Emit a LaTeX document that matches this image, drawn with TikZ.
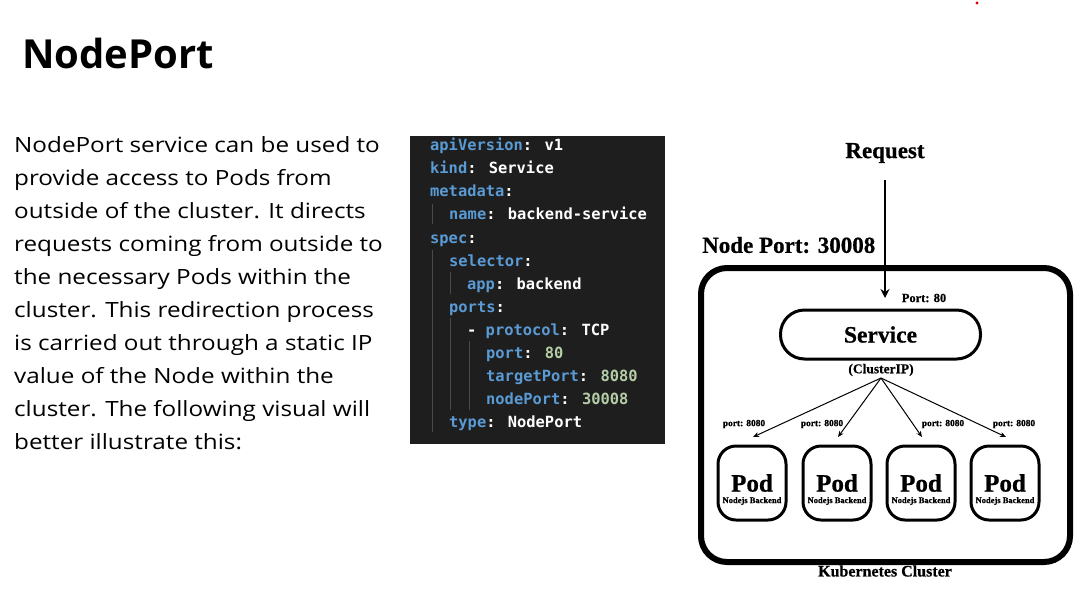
\documentclass[tikz,border=0pt]{standalone}
\usepackage{graphicx}
\usepackage{fontspec}
\setmainfont{Open Sans}
\newfontfamily\codefont{DejaVu Sans Mono}
\newfontfamily\serifb{Liberation Serif}[FakeBold=0.6]
\usetikzlibrary{arrows.meta}
\definecolor{codebg}{HTML}{1E1E1E}
\definecolor{keyc}{HTML}{5A9BD5}
\definecolor{numc}{HTML}{B5CEA8}
\definecolor{guide}{HTML}{4A4A4A}
\tikzset{
  codeline/.style={anchor=base west, inner sep=0pt, font=\codefont\bfseries\fontsize{15.4}{18}\selectfont, text=white},
  paraline/.style={anchor=base west, inner sep=0pt, font=\fontsize{21}{25}\selectfont},
  diag/.style={inner sep=0pt},
  podbox/.style={draw, line width=3pt, rounded corners=18pt, minimum width=68pt, minimum height=74pt},
  flow/.style={-{Stealth[length=6pt,width=5pt]}, line width=1pt},
}
\newcommand{\kk}[1]{\textcolor{keyc}{#1}}
\newcommand{\nn}[1]{\textcolor{numc}{#1}}
\newcommand{\sx}[1]{\scalebox{1.155}[1]{#1}}
\newcommand{\dfont}[1]{\serifb\bfseries\fontsize{#1}{#1}\selectfont}
\begin{document}
\begin{tikzpicture}[x=1pt,y=-1pt]
\useasboundingbox (0,0) rectangle (1092,603);
\fill[white] (0,0) rectangle (1092,603);
\fill[red!85!black] (977,3) circle (1.6);
% title
\node[anchor=west, inner sep=0pt, font=\bfseries\fontsize{40}{48}\selectfont] (title) at (22,53) {NodePort};
% paragraph
\node[paraline] (p1) at (14,152) {\sx{NodePort service can be used to}};
\node[paraline] (p2) at (14,185) {\sx{provide access to Pods from}};
\node[paraline] (p3) at (14,218) {\sx{outside of the cluster. It directs}};
\node[paraline] (p4) at (14,251) {\sx{requests coming from outside to}};
\node[paraline] (p5) at (14,284) {\sx{the necessary Pods within the}};
\node[paraline] (p6) at (14,317) {\sx{cluster. This redirection process}};
\node[paraline] (p7) at (14,350) {\sx{is carried out through a static IP}};
\node[paraline] (p8) at (14,383) {\sx{value of the Node within the}};
\node[paraline] (p9) at (14,416) {\sx{cluster. The following visual will}};
\node[paraline] (p10) at (14,449) {\sx{better illustrate this:}};
% code block
\fill[codebg] (410,136) rectangle (665,444);
\draw[guide, line width=0.8pt] (432,204) -- (432,224);
\draw[guide, line width=0.8pt] (432,250) -- (432,432);
\draw[guide, line width=0.8pt] (450,272) -- (450,294);
\draw[guide, line width=0.8pt] (450,318) -- (450,410);
\draw[guide, line width=0.8pt] (469,341) -- (469,410);
\node[codeline] (c1) at (430,150) {\kk{apiVersion}: v1};
\node[codeline] (c2) at (430,173) {\kk{kind}: Service};
\node[codeline] (c3) at (430,196) {\kk{metadata}:};
\node[codeline] (c4) at (449,219) {\kk{name}: backend-service};
\node[codeline] (c5) at (430,243) {\kk{spec}:};
\node[codeline] (c6) at (449,266) {\kk{selector}:};
\node[codeline] (c7) at (467,289) {\kk{app}: backend};
\node[codeline] (c8) at (449,312) {\kk{ports}:};
\node[codeline] (c9) at (467,335) {- \kk{protocol}: TCP};
\node[codeline] (c10) at (486,358) {\kk{port}: \nn{80}};
\node[codeline] (c11) at (486,381) {\kk{targetPort}: \nn{8080}};
\node[codeline] (c12) at (486,404) {\kk{nodePort}: \nn{30008}};
\node[codeline] (c13) at (449,427) {\kk{type}: NodePort};
% diagram
\node[diag, font=\dfont{23}] (req) at (885,153) {Request};
\node[diag, anchor=west, font=\dfont{23}] (np) at (702,245) {Node Port: 30008};
\draw[line width=6pt, rounded corners=26pt] (701,268) rectangle (1070,562);
\coordinate (reqtop) at (885,180);
\coordinate (reqend) at (885,298);
\draw[-{Stealth[length=9pt,width=9pt]}, line width=2.5pt] (reqtop) -- (reqend);
\node[diag, font=\dfont{12.5}] (p80) at (924,298) {Port: 80};
\node[draw, line width=3pt, rounded corners=24pt, minimum width=200pt, minimum height=49pt, diag, font=\dfont{23.5}] (svc) at (880.5,334.5) {Service};
\node[diag, font=\dfont{13.5}] (cip) at (881,370) {(ClusterIP)};
\coordinate (src) at (881,378);
\foreach \i/\x in {1/752,2/837,3/921,4/1005}{
  \node[podbox] (pod\i) at (\x,483) {};
  \node[diag, font=\dfont{25}] (podt\i) at (\x,483) {Pod};
  \node[diag, font=\dfont{8.5}] (pods\i) at (\x,501) {Nodejs Backend};
  \coordinate (tip\i) at (\x+1,437);
  \draw[flow] (src) -- (tip\i);
}
\node[diag, font=\dfont{9.4}] (l1) at (744,424) {port: 8080};
\node[diag, font=\dfont{9.4}] (l2) at (822,424) {port: 8080};
\node[diag, font=\dfont{9.4}] (l3) at (943,424) {port: 8080};
\node[diag, font=\dfont{9.4}] (l4) at (1014,424) {port: 8080};
\node[diag, font=\dfont{16}] (kc) at (885,571) {Kubernetes Cluster};
\end{tikzpicture}
\end{document}
